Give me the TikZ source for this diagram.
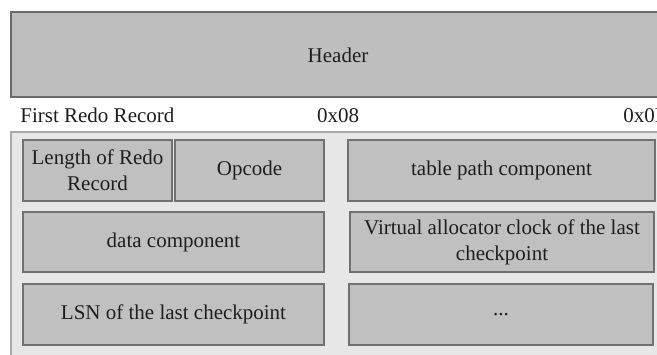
\documentclass[tikz,border=0pt]{standalone}
\usepackage{fontspec}
\setmainfont{Liberation Serif}
\definecolor{hdrfill}{HTML}{BEBEBE}
\definecolor{hdrdraw}{HTML}{6A6A6A}
\definecolor{outfill}{HTML}{E7E7E7}
\definecolor{outdraw}{HTML}{A8A8A8}
\definecolor{cellfill}{HTML}{C0C0C0}
\definecolor{celldraw}{HTML}{707070}
\definecolor{txt}{HTML}{1E1E1E}
\tikzset{
  cellbox/.style={draw=celldraw, fill=cellfill, line width=0.6pt, inner sep=0pt, outer sep=0pt,
    align=center, text=txt, font=\fontsize{10.5}{13}\selectfont},
  lbl/.style={inner sep=0pt, text=txt, font=\fontsize{10.5}{13}\selectfont},
}
\begin{document}
\begin{tikzpicture}[x=0.5pt,y=-0.5pt]
\useasboundingbox (0,0) rectangle (657,354);
% outer light panel
\draw[fill=outfill, draw=outdraw, line width=0.8pt] (11,132) rectangle (720,420);
% header
\node[draw=hdrdraw, fill=hdrfill, line width=0.8pt, inner sep=0pt, outer sep=0pt,
      minimum width=354.5pt, minimum height=42.5pt, anchor=north west] (header) at (11,12) {};
\node[lbl] (headertext) at (338,55) {Header};
% offset labels
\node[lbl, anchor=base west] (first) at (20,122) {First Redo Record};
\node[lbl, anchor=base] (off08) at (338,122) {0x08};
\node[lbl, anchor=base west] (off0d) at (623,122) {0x0D};
% cells
\node[cellbox, minimum width=74.5pt, minimum height=30.5pt] (len) at (97.5,170.5) {Length of Redo\\Record};
\node[cellbox, minimum width=74.5pt, minimum height=30.5pt] (opcode) at (249.5,170.5) {Opcode};
\node[cellbox, minimum width=153.5pt, minimum height=30.5pt] (table) at (501.5,170.5) {table path component};
\node[cellbox, minimum width=150.5pt, minimum height=30pt] (data) at (173.5,242) {data component};
\node[cellbox, minimum width=152pt, minimum height=30pt] (vclock) at (502,242) {Virtual allocator clock of the last\\checkpoint};
\node[cellbox, minimum width=150.5pt, minimum height=30.5pt] (lsn) at (173.5,314.5) {LSN of the last checkpoint};
\node[cellbox, minimum width=152pt, minimum height=30.5pt] (dots) at (501,314.5) {...};
\end{tikzpicture}
\end{document}
